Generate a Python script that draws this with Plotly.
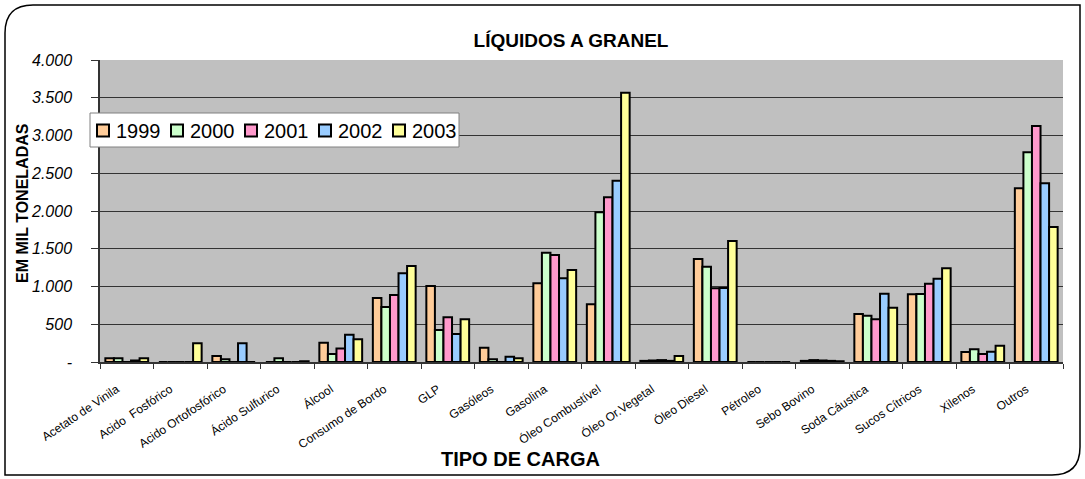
import plotly.graph_objects as go

categories = ["Acetato de Vinila", "Acido  Fosfórico", "Acido Ortofosfórico", "Ácido Sulfurico",
              "Álcool", "Consumo de Bordo", "GLP", "Gasóleos", "Gasolina", "Óleo Combustível",
              "Óleo Or.Vegetal", "Óleo Diesel", "Pétroleo", "Sebo Bovino", "Soda Cáustica",
              "Sucos Cítricos", "Xilenos", "Outros"]

years = ["1999", "2000", "2001", "2002", "2003"]

v1999 = [50, 0, 80, 0, 255, 848, 1006, 190, 1043, 764, 15, 1364, 0, 15, 636, 897, 132, 2300]
v2000 = [50, 0, 35, 50, 105, 728, 424, 35, 1448, 1983, 20, 1263, 0, 25, 613, 900, 168, 2777]
v2001 = [0, 0, 0, 0, 180, 887, 592, 0, 1417, 2182, 25, 976, 0, 20, 565, 1038, 106, 3126]
v2002 = [20, 0, 250, 0, 360, 1175, 371, 70, 1108, 2402, 15, 980, 0, 15, 905, 1104, 137, 2367]
v2003 = [50, 250, 0, 10, 300, 1271, 565, 50, 1219, 3567, 80, 1603, 0, 10, 720, 1241, 216, 1788]

series = [v1999, v2000, v2001, v2002, v2003]
colors = ["#FFCC99", "#CCFFCC", "#FF99CC", "#99CCFF", "#FFFF99"]

y_tickvals = [0, 500, 1000, 1500, 2000, 2500, 3000, 3500, 4000]
y_ticktext = ["-", "500", "1.000", "1.500", "2.000", "2.500", "3.000", "3.500", "4.000"]

fig = go.Figure()
for name, vals, col in zip(years, series, colors):
    fig.add_trace(go.Bar(x=categories, y=vals, name=name, showlegend=False,
                         marker=dict(color=col, line=dict(color="black", width=2))))

FONT = "Liberation Sans, Arial, sans-serif"
W, H = 1085, 479
L, R, T, B = 100, 22, 60, 117
pw, ph = W - L - R, H - T - B

def px(x):
    return (x - L) / pw

def py(y):
    return (H - B - y) / ph

shapes = []
annotations = []

# rounded outer border
x0, x1, y0, y1 = px(5), px(1080), py(5), py(475)
rx, ry = 28 / pw, 28 / ph
path = (f"M {x0+rx},{y0} L {x1},{y0} L {x1},{y1+ry} Q {x1},{y1} {x1-rx},{y1} "
        f"L {x0},{y1} L {x0},{y0-ry} Q {x0},{y0} {x0+rx},{y0} Z")
shapes.append(dict(type="path", path=path, xref="paper", yref="paper",
                   line=dict(color="black", width=1.5), fillcolor="rgba(0,0,0,0)", layer="below"))

# legend box (horizontal, like the original)
shapes.append(dict(type="rect", xref="paper", yref="paper",
                   x0=px(90), x1=px(459), y0=py(147), y1=py(113),
                   fillcolor="white", line=dict(color="#808080", width=1), layer="above"))
step = 74
for i, (name, col) in enumerate(zip(years, colors)):
    sx = 97 + i * step
    shapes.append(dict(type="rect", xref="paper", yref="paper",
                       x0=px(sx), x1=px(sx + 12), y0=py(136.5), y1=py(124.5),
                       fillcolor=col, line=dict(color="black", width=2), layer="above"))
    annotations.append(dict(text=name, x=px(sx + 17), y=py(130.5), xref="paper", yref="paper",
                            xanchor="left", yanchor="middle", showarrow=False,
                            font=dict(size=20, family=FONT, color="black")))

annotations += [
    dict(text="<b>EM MIL TONELADAS</b>", x=px(22), y=py(203), xref="paper", yref="paper",
         xanchor="center", yanchor="middle",
         textangle=-90, showarrow=False, font=dict(size=16, family=FONT)),
    dict(text="<b>TIPO DE CARGA</b>", x=px(520), y=py(459), xref="paper", yref="paper",
         xanchor="center", yanchor="middle",
         showarrow=False, font=dict(size=20, family=FONT)),
]

fig.update_layout(
    width=W, height=H,
    margin=dict(l=L, r=R, t=T, b=B),
    paper_bgcolor="white",
    plot_bgcolor="#C0C0C0",
    barmode="group",
    bargap=0.2,
    bargroupgap=0,
    showlegend=False,
    font=dict(family=FONT, color="black"),
    title=dict(text="<b>LÍQUIDOS A GRANEL</b>", x=571 / W, xanchor="center",
               y=1 - 40 / H, yanchor="middle", yref="container",
               font=dict(size=19, family=FONT, color="black")),
    shapes=shapes,
    annotations=annotations,
)

fig.update_xaxes(
    tickangle=-34, tickfont=dict(size=12, family=FONT),
    ticks="outside", tickson="boundaries", ticklen=5, tickcolor="#333",
    ticklabelstandoff=14, ticklabelshift=-10,
    showline=True, linecolor="#333", linewidth=1.5, mirror=False,
)
fig.update_yaxes(
    range=[0, 4000], tickvals=y_tickvals, ticktext=y_ticktext,
    tickfont=dict(size=16, family=FONT, style="italic"),
    ticks="outside", ticklen=7, tickcolor="#333", ticklabelstandoff=16,
    showgrid=True, gridcolor="#333", gridwidth=1,
    showline=True, linecolor="#333", linewidth=1.5,
    zeroline=False,
)

fig.write_html("out.html", config={"displayModeBar": False},
               post_script="document.body.style.margin='0';")
